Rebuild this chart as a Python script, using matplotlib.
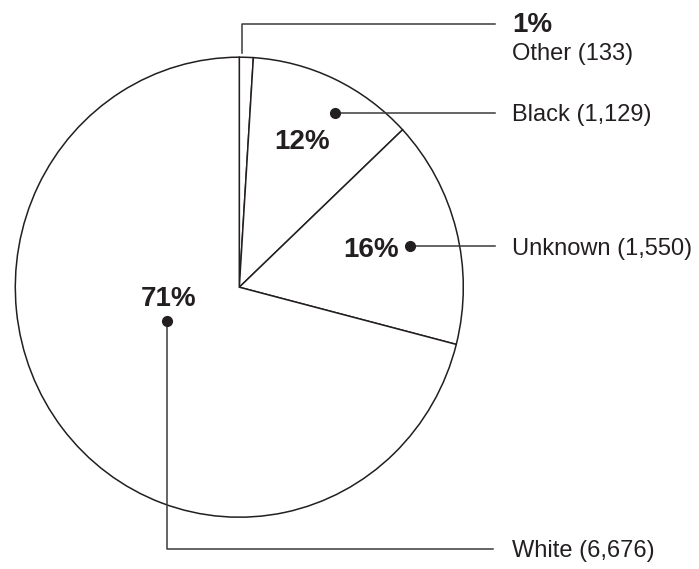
import matplotlib.pyplot as plt

# race breakdown (share of total, count)
categories = ["Other", "Black", "Unknown", "White"]
counts = [133, 1129, 1550, 6676]
percents = [1, 12, 16, 71]

ink = "#231f20"
W, H = 699, 569
# pie centre / radii in pixels
cx, cy, rx, ry = 239.3, 287.2, 224, 230

plt.rcParams['font.family'] = ['Liberation Sans', 'DejaVu Sans']

fig = plt.figure(figsize=(W / 100, H / 100), dpi=100)
ax = fig.add_axes([0, 0, 1, 1])
ax.pie(percents, startangle=90, counterclock=False, radius=1, center=(0, 0),
       wedgeprops=dict(facecolor="white", edgecolor=ink, linewidth=1.1))
ax.set_aspect("auto")
ax.set_xlim(-cx / rx, (W - cx) / rx)
ax.set_ylim(-(H - cy) / ry, cy / ry)
ax.axis("off")

# overlay in pixel coordinates for the callouts
ov = fig.add_axes([0, 0, 1, 1])
ov.set_xlim(0, W)
ov.set_ylim(H, 0)
ov.axis("off")
ov.patch.set_alpha(0)

lw = 1.1
lc = "#3a3a3a"
tx = 512
big = 20
small = 17

def label(name, count):
    return f"{name} ({count:,})"

# Other
ov.plot([242.3, 242.3, 495], [53, 24, 24], color=lc, lw=lw)
ov.text(tx, 32, f"{percents[0]}%", fontsize=big, fontweight="bold", color=ink, va="baseline")
ov.text(tx, 60, label(categories[0], counts[0]), fontsize=small, color=ink, va="baseline")

# Black
ov.plot([335, 495], [113, 113], color=lc, lw=lw)
ov.plot(335, 113, "o", ms=7, color=ink)
ov.text(tx, 121, label(categories[1], counts[1]), fontsize=small, color=ink, va="baseline")
ov.text(302.5, 149, f"{percents[1]}%", fontsize=big, fontweight="bold", color=ink,
        ha="center", va="baseline")

# Unknown
ov.plot([410, 495], [246, 246], color=lc, lw=lw)
ov.plot(410, 246, "o", ms=7, color=ink)
ov.text(tx, 254.5, label(categories[2], counts[2]), fontsize=small, color=ink, va="baseline")
ov.text(371.5, 257, f"{percents[2]}%", fontsize=big, fontweight="bold", color=ink,
        ha="center", va="baseline")

# White
ov.plot([167.3, 167.3, 493], [321, 549, 549], color=lc, lw=lw)
ov.plot(167.3, 321, "o", ms=7, color=ink)
ov.text(tx, 557.5, label(categories[3], counts[3]), fontsize=small, color=ink, va="baseline")
ov.text(169, 306, f"{percents[3]}%", fontsize=big, fontweight="bold", color=ink,
        ha="center", va="baseline")

fig.savefig("out.png", dpi=100, facecolor="white")
